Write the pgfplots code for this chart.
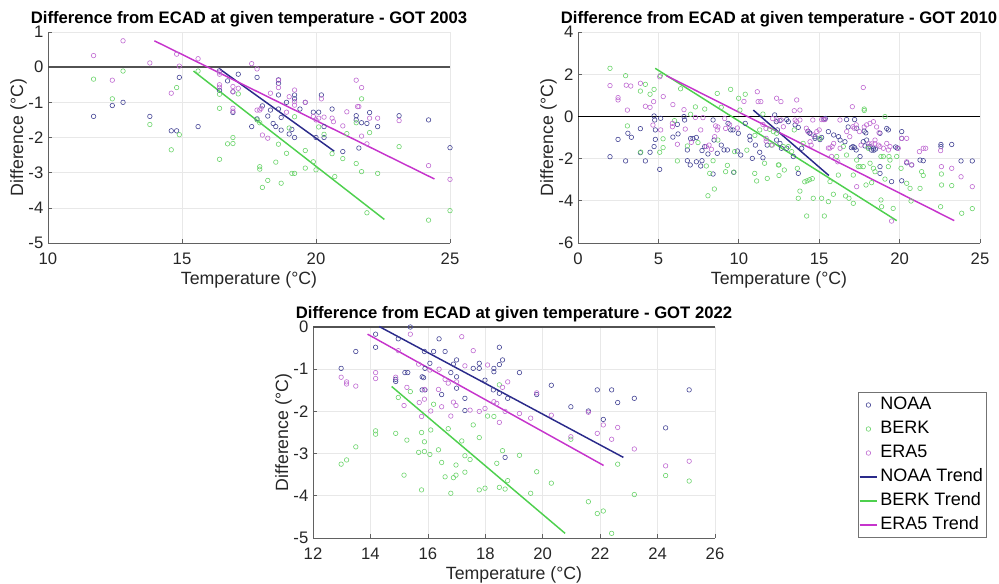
\documentclass[border=0pt]{standalone}
\usepackage{fontspec}
\setmainfont{Liberation Sans}
\usepackage{pgfplots}
\pgfplotsset{compat=1.18}

\definecolor{noaa}{RGB}{42,42,138}
\definecolor{noaaMk}{RGB}{70,70,150}
\definecolor{berk}{RGB}{78,208,78}
\definecolor{berkMk}{RGB}{108,212,108}
\definecolor{era}{RGB}{198,52,204}
\definecolor{eraMk}{RGB}{192,108,210}
\definecolor{txt}{RGB}{38,38,38}

\pgfplotsset{
  got/.style={
    scale only axis, width=301.5pt, height=158.25pt,
    axis lines*=left, clip=false,
    axis line style={black!62, line width=0.6pt},
    tick style={black!62, line width=0.5pt},
    tick align=inside, major tick length=3pt,
    grid=major, grid style={black!9, line width=0.5pt},
    /pgf/number format/assume math mode=true,
    tick label style={font=\fontsize{12.5}{14}\selectfont, text=txt},
    xticklabel style={yshift=-4pt},
    label style={font=\fontsize{13.3}{15}\selectfont, text=txt},
    xlabel style={at={(axis description cs:0.5,-0.175)}, anchor=center},
    ylabel style={at={(axis description cs:-0.0734,0.5)}, anchor=center, rotate=0},
    title style={font=\bfseries\fontsize{12.5}{14}\selectfont, yshift=-5.5pt},
    xlabel={Temperature (°C)}, ylabel={Difference (°C)},
  },
  mk/.style={only marks, mark=o, mark size=1.7pt, mark options={line width=0.45pt}},
  trend/.style={no marks, line width=1.1pt},
  zero/.style={no marks, forget plot},
  mklegend/.style={legend image code/.code={\draw[##1] plot coordinates {(6.5pt,0pt)};}},
  linelegend/.style={legend image code/.code={\draw[##1] (0pt,0pt) -- (13pt,0pt);}},
}

\begin{document}
\begin{tikzpicture}
\useasboundingbox (0,0) rectangle (749.25pt,-437.25pt);

% ---------------- GOT 2003 ----------------
\begin{axis}[got, at={(36pt,-24pt)}, anchor=north west,
  title={Difference from ECAD at given temperature - GOT 2003},
  xmin=10, xmax=25, ymin=-5, ymax=1,
  xtick={10,15,20,25}, ytick={-5,-4,...,1}]
\addplot[zero, black!68, line width=1.1pt] coordinates {(10,0) (25,0)};
\addplot[mk, noaaMk] coordinates {
(11.7,-1.4) (12.4,-1.09) (12.8,-1.0) (13.8,-1.4) (14.6,-1.81) (14.8,-1.81)
(14.9,-0.29) (15.6,-1.69) (16.4,-0.1) (16.4,-0.66) (16.7,-0.39) (16.9,-0.7)
(16.9,-1.29) (17.1,-0.2) (17.6,-1.69) (17.8,-0.29) (17.8,-1.47) (18.0,-1.1)
(18.2,-1.39) (18.4,-1.6) (18.5,-1.69) (18.6,-0.79) (18.6,-0.36) (18.6,-0.46)
(18.6,-1.19) (18.3,-1.22) (18.7,-1.79) (18.7,-1.43) (18.9,-1.0) (19.0,-1.9)
(19.1,-1.77) (19.2,-0.79) (19.2,-0.9) (19.2,-2.0) (19.4,-1.19) (19.6,-1.0)
(19.9,-1.28) (20.1,-1.28) (20.0,-2.0) (20.2,-0.79) (20.3,-1.69) (20.3,-2.0)
(20.6,-1.19) (21.0,-2.4) (21.5,-1.38) (21.5,-1.5) (21.6,-2.3) (21.7,-1.58)
(21.9,-1.6) (22.0,-1.29) (22.3,-1.69) (23.1,-1.38) (24.2,-1.5) (25.0,-2.29)
};
\addplot[mk, berkMk] coordinates {
(11.7,-0.34) (12.4,-0.9) (12.8,-0.11) (13.8,-1.63) (14.6,-2.35) (14.8,-0.58)
(14.9,-1.92) (15.6,-0.11) (16.4,-0.77) (16.4,-1.17) (16.4,-2.62) (16.9,-2.0)
(16.9,-2.17) (16.7,-2.18) (17.1,-0.76) (17.8,-1.5) (17.9,-1.58) (17.9,-2.83)
(17.9,-2.9) (18.0,-3.42) (18.2,-3.22) (18.5,-2.7) (18.6,-2.19) (18.7,-3.3)
(18.9,-2.45) (19.0,-1.73) (19.1,-3.02) (19.2,-3.02) (19.2,-1.41) (19.6,-2.37)
(19.6,-2.87) (19.9,-2.69) (20.0,-2.92) (20.1,-1.7) (20.3,-1.91) (20.6,-2.46)
(20.7,-3.11) (21.0,-2.6) (21.15,-1.89) (21.5,-2.74) (21.5,-1.58) (21.7,-0.9)
(21.7,-2.97) (21.9,-4.14) (22.0,-1.86) (22.3,-3.02) (23.1,-2.26) (24.2,-4.35)
(25.0,-4.08)
};
\addplot[mk, eraMk] coordinates {
(11.7,0.33) (12.4,-0.37) (12.8,0.75) (13.8,0.12) (14.6,-0.74) (14.8,0.37)
(14.9,0.03) (15.6,0.24) (16.4,-0.2) (16.4,-0.14) (16.4,-0.5) (16.4,-0.57)
(16.9,-0.55) (16.9,-0.7) (17.1,-0.6) (16.9,-1.17) (16.9,-1.25) (17.6,0.1)
(17.8,-0.05) (17.8,-1.22) (17.9,-1.22) (17.95,-1.17) (18.0,-1.93) (18.2,-2.02)
(18.3,-0.74) (18.6,-0.37) (18.6,-0.58) (18.9,-1.28) (19.0,-0.84) (19.2,-0.65)
(19.2,-0.98) (19.2,-1.08) (19.6,-1.0) (19.9,-1.4) (20.0,-1.5) (20.1,-1.45)
(20.3,-1.42) (20.2,-0.9) (20.6,-1.45) (20.65,-1.55) (21.15,-1.27) (21.0,-1.67)
(21.5,-0.37) (21.55,-1.12) (21.6,-1.12) (21.7,-0.58) (21.7,-1.96) (21.9,-2.18)
(22.0,-1.45) (22.3,-1.45) (23.1,-1.52) (24.2,-2.8) (25.0,-3.19)
};
\addplot[trend, noaa] coordinates {(16.42,-0.06) (20.68,-2.39)};
\addplot[trend, berk] coordinates {(15.43,-0.11) (22.55,-4.33)};
\addplot[trend, era] coordinates {(13.97,0.75) (24.42,-3.18)};
\end{axis}

% ---------------- GOT 2010 ----------------
\begin{axis}[got, at={(433.5pt,-24pt)}, anchor=north west,
  title={Difference from ECAD at given temperature - GOT 2010},
  xmin=0, xmax=25, ymin=-6, ymax=4,
  xtick={0,5,...,25}, ytick={-6,-4,...,4}]
\addplot[zero, black, line width=0.7pt] coordinates {(0,0) (25,0)};
\addplot[mk, noaaMk] coordinates {
(1.99,-1.91) (2.49,-1.09) (2.96,-2.11) (3.1,-0.8) (3.32,-0.99) (3.88,-0.58)
(3.88,-1.72) (4.19,-2.11) (4.48,-1.7) (4.73,0.02) (4.77,-0.17) (4.81,-0.64)
(4.81,-1.09) (4.73,-1.43) (5.08,-2.51) (5.14,-0.09) (5.9,-0.98) (6.18,-0.38)
(6.22,-0.83) (6.59,-0.01) (6.63,-0.17) (6.8,-2.1) (6.98,-2.3) (7.0,-1.05)
(7.15,-1.05) (7.36,-1.0) (6.8,-1.59) (7.36,-2.15) (7.63,-2.35) (7.71,-2.1)
(7.71,-1.62) (7.88,-1.43) (8.08,-1.78) (8.4,-0.17) (8.46,-1.12) (8.4,-2.73)
(8.66,-1.75) (8.91,-1.36) (9.08,-1.59) (9.29,-1.59) (9.33,-0.33) (9.5,-0.64)
(9.64,-0.64) (9.68,-2.65) (9.91,-1.64) (10.12,-1.83) (10.4,-0.33) (10.68,-0.94)
(10.84,-1.99) (11.03,-1.36) (11.3,-1.7) (11.5,-1.96) (11.77,-1.36) (12.23,0.07)
(12.33,-0.25) (12.4,-0.64) (12.65,-1.51) (9.97,-0.8) (10.7,-1.12)
(12.56,-0.2) (12.98,-0.15) (13.08,-0.25) (13.5,-0.4) (13.7,-0.52) (14.3,-0.7)
(14.4,-0.78) (14.74,-1.04) (15.05,-1.1) (15.15,-1.0) (15.3,-0.15) (15.38,-0.1)
(15.57,-0.72) (15.9,-0.88) (16.2,-0.96) (16.7,-0.15) (17.2,-0.15) (16.8,-0.5)
(17.0,-1.48) (17.2,-1.48) (17.33,-0.56) (17.8,-0.7) (17.9,-0.78) (17.85,-1.4)
(18.05,-1.45) (18.26,-1.6) (18.4,-1.6) (18.5,-1.55) (18.78,-2.38) (18.78,-2.7)
(19.3,-0.64) (19.5,-3.09) (19.75,-1.45) (19.85,-1.5) (20.13,-0.72) (20.13,-1.04)
(20.13,-3.05) (20.44,-2.2) (20.75,-2.3) (21.27,-2.07) (21.47,-2.1) (22.57,-1.33)
(22.57,-1.43) (23.24,-1.33) (23.82,-2.11) (24.52,-2.11) (13.7,-2.7)
(14.43,-0.8) (14.74,-0.96) (16.3,-1.12) (16.6,-1.2) (17.1,-1.43) (17.3,-1.59)
(17.74,-1.2) (17.95,-1.12) (18.16,-1.43) (18.37,-1.51) (17.54,-1.9) (18.78,-0.8)
(19.2,-0.57) (12.35,-1.12) (12.56,-1.28) (12.98,-1.51) (13.39,-1.9) (13.91,-1.51)
};
\addplot[mk, berkMk] coordinates {
(1.99,2.28) (2.96,1.93) (3.88,1.2) (4.19,1.52) (4.48,1.05) (4.73,1.28)
(5.12,1.93) (3.07,-0.45) (3.9,-1.69) (5.08,-1.7) (5.29,-1.06) (5.29,-1.48)
(6.18,-2.11) (6.38,1.31) (6.8,-1.4) (7.3,0.45) (7.46,-1.24) (7.88,0.35)
(7.98,-2.35) (8.08,-3.76) (8.19,-2.7) (8.4,-2.1) (8.48,-3.44) (8.66,1.09)
(8.7,-1.12) (8.91,0.43) (9.18,-2.62) (9.29,-2.32) (9.49,1.28) (9.7,-2.64)
(9.74,-1.67) (9.99,0.86) (10.07,0.3) (10.4,1.05) (10.99,-2.7) (11.11,-3.06)
(11.3,-0.64) (11.5,0.11) (11.6,-2.22) (11.77,-2.94) (11.92,-0.61) (12.02,-1.36)
(12.5,-2.8) (12.5,-2.3) (12.46,-2.3) (12.83,-2.54) (13.08,-1.43) (13.45,-0.64)
(13.64,-2.46) (13.7,-3.88) (13.8,-3.54) (14.1,-3.1) (14.25,-3.05) (14.4,-3.0)
(14.57,-2.95) (14.22,-4.72) (14.63,-3.88) (15.15,-3.88) (15.32,-4.72) (15.57,-4.04)
(15.67,-3.09) (15.88,-3.69) (16.19,-2.78) (16.5,-1.43) (16.64,-3.77) (16.85,-3.88)
(17.12,-2.78) (17.12,-4.12) (17.43,-2.38) (17.74,-2.38) (17.91,-3.25) (17.8,0.35)
(17.8,0.28) (18.05,-1.51) (18.26,-3.14) (18.47,-2.62) (18.84,-1.9) (18.84,-3.96)
(18.88,-4.28) (19.09,-2.97) (19.3,-2.38) (19.34,-1.9) (19.6,-4.36) (20.09,-2.46)
(20.44,-3.17) (20.65,-3.41) (20.71,-4.01) (21.27,-3.41) (21.37,-2.62) (21.47,-2.8)
(22.55,-4.28) (22.61,-3.25) (23.24,-3.28) (23.86,-4.59) (24.52,-4.37) (22.6,-2.73)
(12.15,-0.72) (12.35,-0.8) (12.77,-1.43) (13.29,-1.67) (14.0,-1.28) (15.05,-1.04)
(16.09,-1.9) (16.7,-1.83) (17.33,-2.07) (17.54,-2.38) (18.16,-2.22) (18.37,-2.46)
(18.99,-1.9) (19.4,-2.07) (19.82,-1.9) (19.09,-0.01) (7.0,0.1) (6.0,-0.2)
(10.5,-1.6) (11.0,-0.9)
};
\addplot[mk, eraMk] coordinates {
(1.99,1.46) (2.49,0.89) (2.49,0.78) (3.0,1.48) (3.28,1.44) (3.07,0.3)
(3.88,1.57) (4.19,0.48) (4.48,0.43) (4.7,0.7) (5.08,1.88) (5.3,0.94)
(4.66,-0.41) (5.14,-0.64) (5.9,0.56) (5.87,-0.33) (5.87,-0.49) (6.18,-1.32)
(6.59,0.32) (6.67,-0.6) (7.05,-1.23) (7.3,-0.05) (7.77,-0.06) (7.63,-0.64)
(7.98,-1.43) (8.15,-1.36) (8.3,-1.56) (8.56,-0.45) (8.7,-0.5) (8.5,-0.96)
(8.66,-0.64) (9.12,-0.1) (9.18,-0.57) (9.43,-0.39) (9.91,-0.55) (10.32,0.71)
(11.15,1.17) (11.2,0.7) (11.37,0.7) (11.5,-0.38) (11.7,-1.04) (11.7,-1.17)
(12.35,0.86) (12.08,-1.36) (12.64,-0.17) (12.62,0.7) (13.45,0.27) (13.8,0.3)
(13.6,0.78) (13.5,-0.17) (14.2,-0.56) (14.3,-0.72) (14.63,-0.88) (15.15,-0.15)
(15.25,-0.15) (15.36,-0.15) (14.43,-1.2) (14.5,-1.36) (15.57,-1.5) (15.67,-1.5)
(15.77,-1.9) (16.15,-2.15) (16.29,-0.17) (16.71,-0.72) (17.06,0.46) (17.18,-0.56)
(17.74,1.37) (17.6,-1.36) (17.8,-0.5) (18.1,-1.3) (18.26,-1.3) (18.47,-1.3)
(18.57,-0.5) (18.72,-0.77) (18.99,-1.51) (19.4,-1.43) (19.92,-1.51) (20.13,-1.04)
(20.44,-1.04) (20.44,-2.15) (20.75,-2.3) (21.23,-1.67) (21.47,-1.51) (21.62,-1.51)
(22.55,-1.62) (22.6,-2.38) (23.24,-2.46) (23.82,-2.86) (24.52,-3.33) (19.5,-4.96)
(17.33,-3.33) (11.69,-0.57) (12.1,-0.1) (12.4,-0.17) (12.77,-0.49) (13.6,-0.25)
(13.8,-0.17) (14.6,-0.17) (14.85,-0.72) (15.0,-0.64) (15.8,-1.43) (15.9,-1.28)
(16.3,-1.51) (16.9,-0.96) (17.1,-0.49) (17.3,-0.4) (17.5,-0.72) (17.95,-0.4)
(18.16,-0.33) (18.47,-1.12) (18.68,-1.36) (18.37,-0.25) (19.2,-1.28) (19.3,-1.59)
(18.78,-1.43)
};
\addplot[trend, noaa] coordinates {(10.9,0.3) (15.6,-2.8)};
\addplot[trend, berk] coordinates {(4.8,2.28) (19.82,-4.94)};
\addplot[trend, era] coordinates {(5.5,1.93) (23.4,-4.94)};
\end{axis}

% ---------------- GOT 2022 ----------------
\begin{axis}[got, at={(234.75pt,-245.25pt)}, anchor=north west,
  title={Difference from ECAD at given temperature - GOT 2022},
  xmin=12, xmax=26, ymin=-5, ymax=0,
  xtick={12,14,...,26}, ytick={-5,-4,...,0},
  legend style={at={(1.3557,0.6919)}, anchor=north west,
    draw=black!55, line width=0.5pt, fill=white,
    font=\fontsize{13.5}{16}\selectfont,
    inner xsep=0.5pt, inner ysep=0.5pt, row sep=0pt,
    cells={anchor=west},
    nodes={inner xsep=2pt, inner ysep=0pt, text height=12pt, text depth=6pt}},
  legend cell align=left]
\addplot[zero, black!68, line width=1.1pt] coordinates {(12,0) (26,0)};
\addplot[mk, noaaMk, mklegend] coordinates {
(12.98,-0.98) (13.49,-0.58) (14.18,-0.17) (14.18,-0.48) (14.88,-1.24) (14.88,-1.29)
(14.97,-0.28) (15.2,-1.08) (15.3,-1.08) (15.39,0.0) (15.8,-1.18) (15.85,-1.2)
(15.8,-1.49) (15.9,-1.49) (15.88,-0.58) (15.9,-0.98) (16.07,-0.86) (16.2,-0.58)
(16.39,-0.28) (16.48,-1.6) (16.6,-0.58) (16.8,-1.08) (16.89,-0.88) (17.0,-0.78)
(17.0,-1.18) (17.0,-1.45) (17.29,-1.69) (17.29,-1.98) (17.58,-0.98) (17.79,-0.86)
(17.79,-0.98) (17.99,-1.26) (18.3,-0.98) (18.3,-1.06) (18.28,-1.49) (18.49,-1.57)
(18.49,-0.89) (18.49,-0.48) (18.6,-0.78) (18.78,-1.69) (18.69,-3.09) (19.19,-1.08)
(19.79,-1.6) (20.3,-1.38) (20.98,-1.89) (21.59,-1.99) (21.9,-1.49) (22.11,-2.19)
(22.4,-1.49) (22.61,-1.79) (23.19,-1.69) (24.28,-2.39) (25.1,-1.49)
};
\addlegendentry{NOAA}
\addplot[mk, berkMk, mklegend] coordinates {
(12.98,-3.25) (13.17,-3.15) (13.49,-2.84) (14.18,-2.46) (14.18,-2.54) (14.88,-2.52)
(14.97,-1.67) (15.17,-3.51) (15.27,-2.68) (15.39,-1.53) (15.68,-2.97) (15.78,-2.5)
(15.78,-3.86) (15.88,-2.72) (15.88,-2.95) (16.07,-3.02) (16.1,-2.44) (16.2,-1.83)
(16.37,-2.91) (16.48,-3.21) (16.6,-3.55) (16.71,-2.41) (16.8,-3.94) (16.89,-3.57)
(16.98,-3.27) (16.98,-3.51) (17.18,-2.7) (17.29,-3.05) (17.29,-3.44) (17.47,-3.14)
(17.58,-2.32) (17.79,-2.62) (17.79,-3.86) (17.99,-3.82) (18.08,-2.11) (18.3,-2.12)
(18.4,-3.23) (18.49,-1.37) (18.49,-3.8) (18.6,-2.93) (18.69,-3.84) (18.78,-3.64)
(19.19,-3.04) (19.58,-3.94) (19.79,-3.43) (20.3,-3.7) (20.98,-2.66) (21.59,-4.14)
(21.9,-4.42) (22.11,-4.36) (22.4,-4.89) (22.61,-3.25) (23.19,-3.97) (24.28,-3.52)
(25.1,-3.65)
};
\addlegendentry{BERK}
\addplot[mk, eraMk, mklegend] coordinates {
(12.98,-1.19) (13.17,-1.3) (13.17,-1.35) (13.49,-1.4) (14.18,-1.08) (14.18,-1.22)
(14.88,-1.19) (14.97,-0.56) (15.17,-1.86) (15.27,-1.43) (15.39,-0.17) (15.68,-0.88)
(15.7,-1.79) (15.78,-2.12) (15.88,-1.71) (15.88,-1.48) (16.07,-1.02) (16.1,-1.99)
(16.37,-1.48) (16.39,-1.0) (16.48,-1.89) (16.6,-1.24) (16.71,-1.33) (16.8,-2.11)
(16.89,-1.78) (16.98,-1.86) (17.0,-1.3) (17.18,-0.23) (17.29,-0.92) (17.47,-1.97)
(17.58,-0.56) (17.79,-2.0) (18.08,-0.9) (17.99,-1.93) (18.3,-1.77) (18.4,-1.81)
(18.49,-2.26) (18.6,-1.43) (18.78,-1.3) (18.69,-2.0) (19.19,-2.05) (19.58,-2.16)
(19.79,-1.56) (20.3,-2.09) (20.98,-2.6) (21.59,-2.02) (21.9,-2.52) (22.11,-2.32)
(22.4,-2.66) (22.61,-2.38) (23.19,-2.89) (24.28,-3.29) (25.1,-3.18)
};
\addlegendentry{ERA5}
\addplot[trend, noaa, linelegend] coordinates {(14.31,0.01) (22.81,-3.09)};
\addlegendentry{NOAA Trend}
\addplot[trend, berk, linelegend] coordinates {(14.74,-1.41) (20.78,-4.89)};
\addlegendentry{BERK Trend}
\addplot[trend, era, linelegend] coordinates {(13.9,-0.17) (22.12,-3.28)};
\addlegendentry{ERA5 Trend}
\end{axis}
\end{tikzpicture}
\end{document}
